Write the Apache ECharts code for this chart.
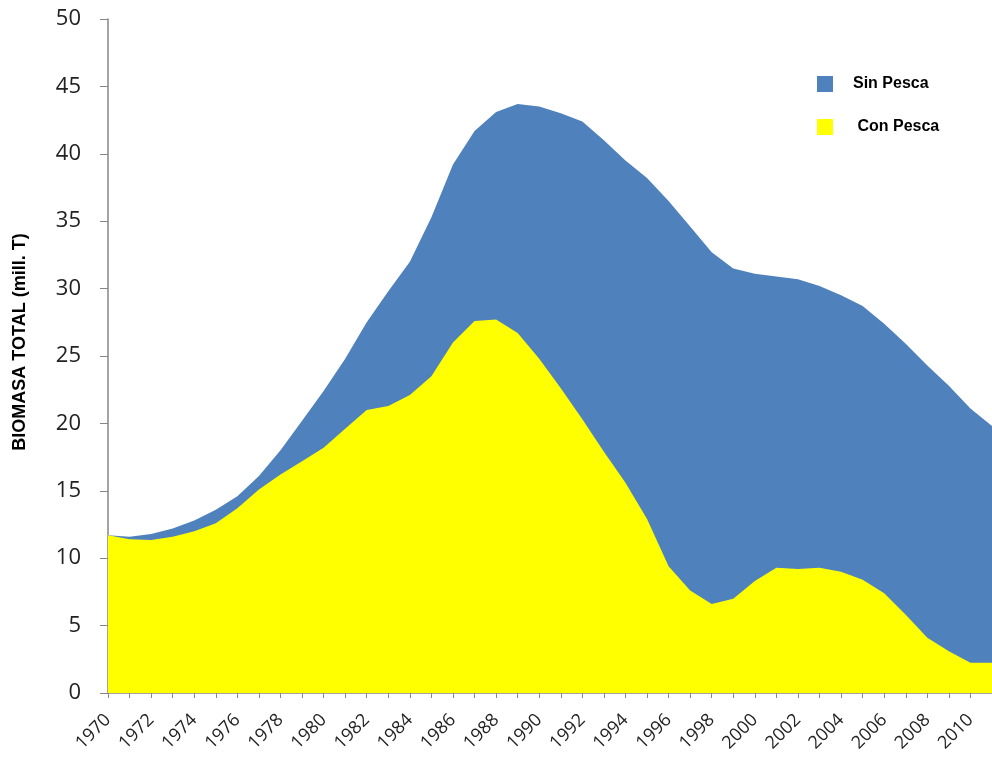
<!DOCTYPE html>
<html>
<head>
<meta charset="utf-8">
<title>Biomasa total</title>
<script src="https://cdn.jsdelivr.net/npm/echarts@6/dist/echarts.min.js"></script>
<style>
  html, body { margin: 0; padding: 0; background: #fff; }
  #chart { width: 992px; height: 757px; }
</style>
</head>
<body>
<div id="chart"></div>
<script>
// años 1970-2011
var years = [];
for (var y = 1970; y <= 2011; ++y) years.push(String(y));

// Sin Pesca (mill. T)
var sinPesca = [
	11.7, 11.6, 11.8, 12.2, 12.8, 13.6, 14.6, 16.1, 18.0, 20.2,
	22.4, 24.8, 27.5, 29.8, 32.0, 35.3, 39.2, 41.7, 43.1, 43.7,
	43.5, 43.0, 42.4, 41.0, 39.5, 38.2, 36.5, 34.6, 32.7, 31.5,
	31.1, 30.9, 30.7, 30.2, 29.5, 28.7, 27.4, 25.9, 24.3, 22.8,
	21.1, 19.8
];
// Con Pesca (mill. T)
var conPesca = [
	11.7, 11.4, 11.35, 11.6, 12.0, 12.6, 13.7, 15.1, 16.2, 17.2,
	18.2, 19.6, 21.0, 21.3, 22.1, 23.5, 26.0, 27.6, 27.7, 26.7,
	24.8, 22.6, 20.3, 17.9, 15.6, 12.9, 9.4, 7.6, 6.6, 7.0,
	8.3, 9.3, 9.2, 9.3, 9.0, 8.4, 7.4, 5.8, 4.1, 3.1,
	2.25, 2.25
];

var chart = echarts.init(document.getElementById('chart'));

var option = {
	animation: false,
	grid: { left: 108, right: 0, top: 19, bottom: 64, outerBoundsMode: 'none' },
	legend: {
		orient: 'vertical',
		left: 817, top: 76,
		padding: 0,
		itemWidth: 16, itemHeight: 16, itemGap: 27,
		icon: 'rect',
		textStyle: { fontFamily: 'Liberation Sans', fontWeight: 'bold', fontSize: 16, color: '#000', padding: [0, 0, 0, 15] },
		data: ['Sin Pesca', ' Con Pesca']
	},
	xAxis: {
		type: 'category',
		data: years,
		boundaryGap: false,
		axisLine: { lineStyle: { color: '#868686', width: 1.5 } },
		axisTick: { alignWithLabel: true, interval: 0, length: 5, lineStyle: { color: '#868686' } },
		axisLabel: {
			interval: 1, rotate: 45, margin: 24,
			fontFamily: 'Open Sans', fontSize: 18, color: '#222'
		},
		splitLine: { show: false }
	},
	yAxis: {
		type: 'value',
		min: 0, max: 50, interval: 5,
		name: 'BIOMASA TOTAL (mill. T)',
		nameLocation: 'middle',
		nameGap: 79,
		nameTextStyle: { fontFamily: 'Liberation Sans', fontWeight: 'bold', fontSize: 18, color: '#000', padding: [0, 0, 0, 28] },
		axisLine: { show: true, lineStyle: { color: '#868686', width: 1.5 } },
		axisTick: { show: true, inside: false, length: 8, lineStyle: { color: '#868686' } },
		axisLabel: { margin: 27, fontFamily: 'Open Sans', fontSize: 22, color: '#222' },
		splitLine: { show: false }
	},
	series: [
		{
			name: 'Sin Pesca',
			type: 'line',
			data: sinPesca,
			symbol: 'none',
			lineStyle: { width: 0 },
			itemStyle: { color: '#4F81BD' },
			areaStyle: { color: '#4F81BD', opacity: 1 }
		},
		{
			name: ' Con Pesca',
			type: 'line',
			data: conPesca,
			symbol: 'none',
			lineStyle: { width: 0 },
			itemStyle: { color: '#FFFF00' },
			areaStyle: { color: '#FFFF00', opacity: 1 }
		}
	]
};
chart.setOption(option);
</script>
</body>
</html>
